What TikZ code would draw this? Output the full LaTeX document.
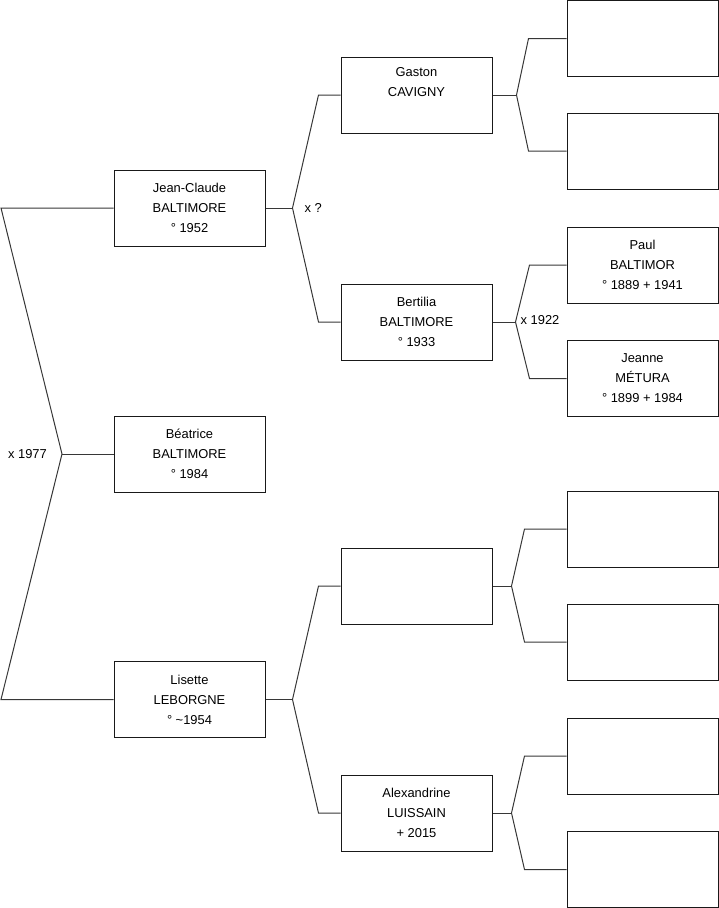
\documentclass[tikz,border=0pt]{standalone}
\usepackage{fontspec}
\setmainfont{Liberation Sans}
\usetikzlibrary{positioning}
\definecolor{LineGray}{RGB}{55,55,55}
\tikzset{
  personbox/.style={draw=black!90,line width=1pt,fill=white,
    minimum width=151pt,minimum height=76pt,inner sep=0pt,align=center,
    font=\fontsize{12.9pt}{20pt}\selectfont},
  forkline/.style={draw=LineGray,line width=1pt},
  wedlabel/.style={inner sep=0pt,font=\fontsize{12.9pt}{20pt}\selectfont},
}

\begin{document}
\begin{tikzpicture}[x=1pt,y=-1pt]
\useasboundingbox (0,0) rectangle (719,908);
\node[personbox] (jc) at (189.5,208) {Jean-Claude\\BALTIMORE\\° 1952};
\node[personbox] (bea) at (189.5,454) {Béatrice\\BALTIMORE\\° 1984};
\node[personbox] (lis) at (189.5,699.5) {Lisette\\LEBORGNE\\° \textasciitilde1954};
\node[personbox] (gaston) at (416.5,95) {Gaston\\CAVIGNY\\\strut};
\node[personbox] (bert) at (416.5,322) {Bertilia\\BALTIMORE\\° 1933};
\node[personbox] (lisfa) at (416.5,586) {};
\node[personbox] (alex) at (416.5,813) {Alexandrine\\LUISSAIN\\+ 2015};
\node[personbox] (gasfa) at (642.5,38.5) {};
\node[personbox] (gasmo) at (642.5,151) {};
\node[personbox] (paul) at (642.5,265) {Paul\\BALTIMOR\\° 1889 + 1941};
\node[personbox] (jeanne) at (642.5,378.5) {Jeanne\\MÉTURA\\° 1899 + 1984};
\node[personbox] (lfafa) at (642.5,529) {};
\node[personbox] (lfamo) at (642.5,642) {};
\node[personbox] (alexfa) at (642.5,756) {};
\node[personbox] (alexmo) at (642.5,869.5) {};
\coordinate (edge) at (1,0);
\coordinate (wed) at (62,454);
\coordinate (jcf) at ([xshift=27pt]jc.east);
\coordinate (lisf) at ([xshift=27pt]lis.east);
\coordinate (gasf) at ([xshift=24pt]gaston.east);
\coordinate (bertf) at ([xshift=23pt]bert.east);
\coordinate (lisfaf) at ([xshift=19pt]lisfa.east);
\coordinate (alexf) at ([xshift=19pt]alex.east);
\draw[forkline] (jc.west) -- (jc.west -| edge) -- (wed) -- (lis.west -| edge) -- (lis.west);
\draw[forkline] (wed) -- (bea.west);
\draw[forkline] (jc.east) -- (jcf);
\draw[forkline] (gaston.west) -- ([xshift=-22pt]gaston.west) -- (jcf) -- ([xshift=-22pt]bert.west) -- (bert.west);
\draw[forkline] (lis.east) -- (lisf);
\draw[forkline] (lisfa.west) -- ([xshift=-22pt]lisfa.west) -- (lisf) -- ([xshift=-22pt]alex.west) -- (alex.west);
\draw[forkline] (gaston.east) -- (gasf);
\draw[forkline] (gasfa.west) -- ([xshift=-38pt]gasfa.west) -- (gasf) -- ([xshift=-38pt]gasmo.west) -- (gasmo.west);
\draw[forkline] (bert.east) -- (bertf);
\draw[forkline] (paul.west) -- ([xshift=-37pt]paul.west) -- (bertf) -- ([xshift=-37pt]jeanne.west) -- (jeanne.west);
\draw[forkline] (lisfa.east) -- (lisfaf);
\draw[forkline] (lfafa.west) -- ([xshift=-42pt]lfafa.west) -- (lisfaf) -- ([xshift=-42pt]lfamo.west) -- (lfamo.west);
\draw[forkline] (alex.east) -- (alexf);
\draw[forkline] (alexfa.west) -- ([xshift=-42pt]alexfa.west) -- (alexf) -- ([xshift=-42pt]alexmo.west) -- (alexmo.west);
\node[wedlabel,left=15pt of wed] (w1977) {x 1977};
\node[wedlabel,right=12pt of jcf] (wq) {x ?};
\node[wedlabel,right=5pt of bertf,yshift=2pt] (w1922) {x 1922};
\end{tikzpicture}
\end{document}
